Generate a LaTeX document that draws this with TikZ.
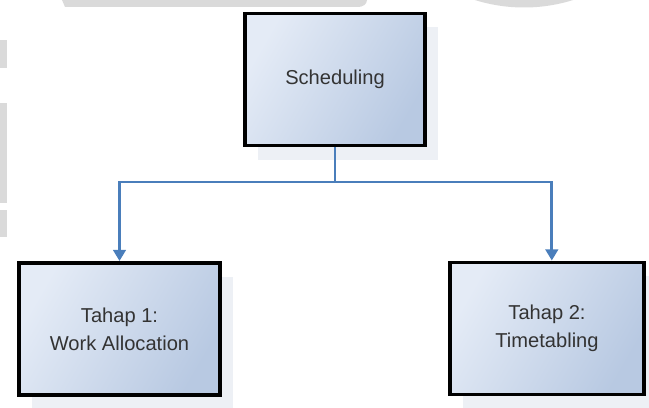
\documentclass[tikz,border=0pt]{standalone}
\usepackage{fontspec}
\setmainfont{Liberation Sans}
\usepackage{tikz}
\usetikzlibrary{shapes,arrows,arrows.meta,positioning,shadows}
\definecolor{boxlight}{HTML}{E4EBF6}
\definecolor{boxdark}{HTML}{B8C9E2}
\definecolor{shadowblue}{HTML}{EDF0F5}
\definecolor{linkblue}{HTML}{4A7EBB}
\definecolor{textgray}{HTML}{333333}
\definecolor{markgray}{HTML}{DADADA}
\tikzstyle{block} = [rectangle, draw=black, line width=2.8pt, left color=boxlight, right color=boxdark,
    shading angle=60, text=textgray, align=center, font=\fontsize{14.3}{20}\selectfont,
    minimum height=3.3cm, drop shadow={shadow xshift=0.33cm, shadow yshift=-0.35cm, fill=shadowblue, opacity=1}]
\tikzstyle{line} = [draw=linkblue, line width=1.9pt, -{Triangle[length=8pt,width=9pt]}]
\begin{document}
\begin{tikzpicture}[x=0.025cm, y=-0.025cm]
    \useasboundingbox (0,0) rectangle (649,407);
    % Faded marks on the edges
    \begin{scope}
    \clip (0,0) rectangle (649,407);
    \fill [markgray] (62,0) -- (65,7) -- (358,7) to[out=0,in=-90] (367,0) -- cycle;
    \fill [markgray] (524,-156.3) circle (163.8);
    \fill [markgray] (0,40) rectangle (7,68);
    \fill [markgray] (0,103) rectangle (7,203);
    \fill [markgray] (0,210) rectangle (7,237);
    \end{scope}
    % Place nodes
    \node [block, minimum width=4.5cm] (sched) at (335,79.5) {Scheduling};
    \node [block, minimum width=5.03cm] (alloc) at (119.5,329) {Tahap 1:\\Work Allocation};
    \node [block, minimum width=4.85cm] (timetab) at (547,328.5) {Tahap 2:\\Timetabling};
    \coordinate (split) at (335,182);
    % Draw edges
    \path [line] (sched) -- (split) -| (alloc);
    \path [line] (sched) -- (split) -| ([xshift=0.12cm]timetab.north);
\end{tikzpicture}
\end{document}
